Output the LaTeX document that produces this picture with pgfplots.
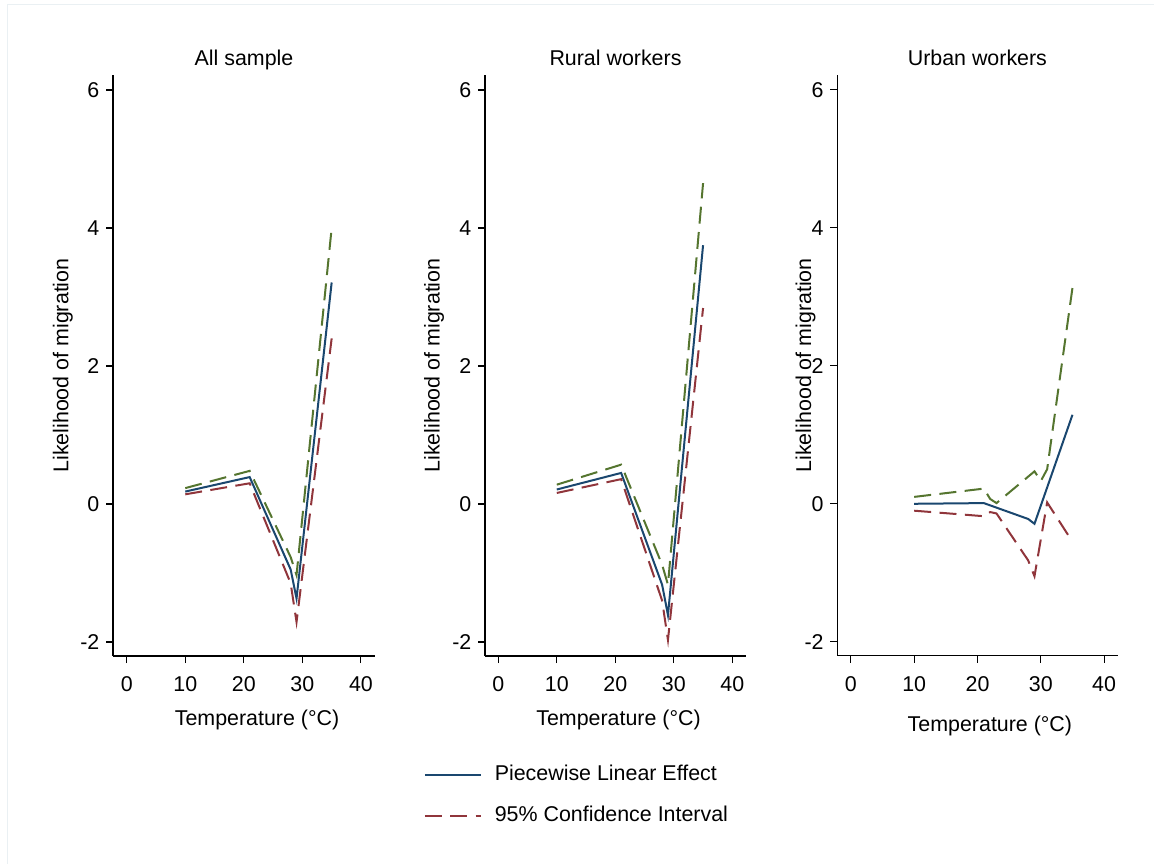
\documentclass[border=0pt]{standalone}
\usepackage{fontspec}
\setmainfont{Liberation Sans}
\usepackage{pgfplots}
\pgfplotsset{compat=1.18}

\definecolor{sNavy}{RGB}{26,71,111}
\definecolor{sMaroon}{RGB}{144,53,59}
\definecolor{sGreen}{RGB}{85,117,47}
\definecolor{frameGray}{RGB}{234,240,243}

\newcommand{\chartfont}{\fontsize{10.7}{12.8}\selectfont}

% Piecewise linear estimates and 95% bounds, by sample
\pgfplotstableread{
x    y
10   0.18
21   0.39
28  -0.95
29  -1.37
35   3.21
}\allEst
\pgfplotstableread{
x    y
10   0.23
21   0.48
28  -0.77
29  -1.03
35   4.00
}\allHi
\pgfplotstableread{
x    y
10   0.14
21   0.30
28  -1.15
29  -1.71
35   2.40
}\allLo

\pgfplotstableread{
x    y
10   0.21
21   0.45
28  -1.17
29  -1.61
35   3.75
}\ruralEst
\pgfplotstableread{
x    y
10   0.28
21   0.57
28  -0.88
29  -1.17
35   4.65
}\ruralHi
\pgfplotstableread{
x    y
10   0.16
21   0.36
28  -1.40
29  -1.97
35   2.84
}\ruralLo

\pgfplotstableread{
x    y
10   0.00
21   0.01
28  -0.22
29  -0.29
35   1.29
}\urbanEst
\pgfplotstableread{
x    y
10   0.10
21   0.22
22   0.07
23   0.01
29   0.47
30   0.33
31   0.50
35   3.13
}\urbanHi
\pgfplotstableread{
x    y
10  -0.10
21  -0.18
22  -0.12
23  -0.14
28  -0.82
29  -1.05
31   0.02
35  -0.55
}\urbanLo

\pgfplotsset{
  panel/.style={
    scale only axis,
    height=290.5pt,
    anchor=south west,
    axis lines=left,
    axis line style={-, black, line width=0.55pt},
    tick style={black, line width=0.55pt},
    tick align=outside,
    major tick length=3.5pt,
    xtick={0,10,20,30,40},
    xticklabels={0,10,20,30,40},
    ytick={-2,0,2,4,6},
    yticklabels={-2,0,2,4,6},
    ymin=-2.203, ymax=6.217,
    font=\chartfont,
    ticklabel style={font=\chartfont},
    xticklabel style={anchor=base, yshift=-14.3pt},
    yticklabel style={anchor=east, xshift=0.2pt},
    label style={font=\chartfont},
    title style={font=\chartfont, at={(0.5,1)}, anchor=base, yshift=-1.5pt},
    xlabel={Temperature (°C)},
    ylabel={Likelihood of migration},
    xlabel style={at={(axis description cs:0.5,0)}, anchor=base, yshift=-34.5pt},
    clip=false,
  },
  est/.style={sNavy, line width=1pt, solid},
  hi/.style={sGreen, line width=1pt, dash pattern=on 8.5pt off 4.2pt},
  lo/.style={sMaroon, line width=1pt, dash pattern=on 8.5pt off 4.2pt},
}

\begin{document}
\begin{tikzpicture}
\useasboundingbox (0,0) rectangle (577pt,431.5pt);
\draw[frameGray, line width=0.5pt] (3.5pt,-1pt) -- (3.5pt,429pt) -- (578pt,429pt);

\begin{axis}[panel, at={(56.5pt,103.5pt)}, width=131pt,
  xmin=-2.34, xmax=42.4, title={All sample},
  xlabel style={xshift=6.5pt},
  ylabel style={at={(axis description cs:-0.191,0.5)}, anchor=center}]
  \addplot[hi] table {\allHi};
  \addplot[lo] table {\allLo};
  \addplot[est] table {\allEst};
\end{axis}

\begin{axis}[panel, at={(242.5pt,103.5pt)}, width=130.5pt,
  xmin=-2.27, xmax=42.34, title={Rural workers},
  xlabel style={xshift=1.5pt},
  ylabel style={at={(axis description cs:-0.195,0.5)}, anchor=center},
  legend style={at={(axis description cs:-0.236,-0.187)}, anchor=north west,
    draw=none, fill=none, inner sep=0pt, row sep=11pt,
    nodes={inner sep=0pt, text height=7.6pt, text depth=2.1pt},
    /tikz/every odd column/.style={column sep=6.5pt},
    font=\chartfont},
  legend cell align=left,
  legend image code/.code={\draw[#1] (0pt,0pt) -- (28pt,0pt);}]
  \addplot[hi, forget plot] table {\ruralHi};
  \addplot[est] table {\ruralEst};
  \addplot[lo] table {\ruralLo};
  \addlegendentry{Piecewise Linear Effect}
  \addlegendentry{95\% Confidence Interval}
\end{axis}

\begin{axis}[panel, at={(418.6pt,103.6pt)}, width=140.2pt,
  xmin=-2.16, xmax=42.13, title={Urban workers},
  xlabel style={yshift=-3.5pt, xshift=6.25pt},
  ylabel style={at={(axis description cs:-0.113,0.5)}, anchor=center}]
  \addplot[hi] table {\urbanHi};
  \addplot[lo] table {\urbanLo};
  \addplot[est] table {\urbanEst};
\end{axis}
\end{tikzpicture}
\end{document}
